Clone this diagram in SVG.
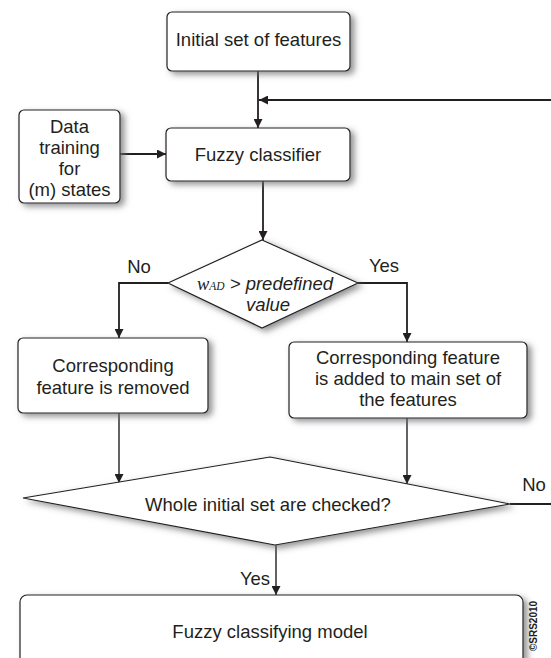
<svg xmlns="http://www.w3.org/2000/svg" width="551" height="658" viewBox="0 0 551 658">
<defs>
<filter id="sh" x="-20%" y="-20%" width="140%" height="140%">
<feGaussianBlur in="SourceAlpha" stdDeviation="3"/>
<feOffset dx="4" dy="3" result="b"/>
<feFlood flood-color="#6d6e71" flood-opacity="0.75"/>
<feComposite in2="b" operator="in"/>
<feMerge><feMergeNode/><feMergeNode in="SourceGraphic"/></feMerge>
</filter>
<marker id="ah" viewBox="0 0 10 10" refX="10" refY="5" markerWidth="9" markerHeight="9" markerUnits="userSpaceOnUse" orient="auto">
<path d="M0,0 L10,5 L0,10 z" fill="#231f20"/>
</marker>
</defs>
<style>
.box{fill:#fff;stroke:#231f20;stroke-width:1.2;filter:url(#sh)}
.t{font-family:"Liberation Sans",Arial,sans-serif;font-size:18.5px;fill:#231f20;text-anchor:middle}
.c{fill:none;stroke:#231f20;stroke-width:1.8}
.c2{fill:none;stroke:#231f20;stroke-width:1.4}
</style>
<rect width="551" height="658" fill="#fff"/>
<g id="connectors">
<path class="c" d="M258,71 V128" marker-end="url(#ah)"/>
<path class="c" d="M551,100 H259" marker-end="url(#ah)"/>
<path class="c" d="M120,154 H166" marker-end="url(#ah)"/>
<path class="c" d="M263,181 V240" marker-end="url(#ah)"/>
<path class="c" d="M168,283 H119 V338" marker-end="url(#ah)"/>
<path class="c" d="M358,283 H407 V342" marker-end="url(#ah)"/>
<path class="c2" d="M119,413 V483" marker-end="url(#ah)"/>
<path class="c2" d="M407,418 V484" marker-end="url(#ah)"/>
<path class="c" d="M510,504 H551"/>
<path class="c2" d="M276,545 V595" marker-end="url(#ah)"/>
</g>
<g id="n-initial"><rect class="box" x="167" y="12" width="183" height="59" rx="5"/><text class="t" x="258.5" y="46">Initial set of features</text></g>
<g id="n-data"><rect class="box" x="19" y="110" width="101" height="93" rx="5"/>
<text class="t" x="69.5" y="132.5">Data</text><text class="t" x="69.5" y="153.5">training</text><text class="t" x="69.5" y="174.5">for</text><text class="t" x="69.5" y="195.5">(m) states</text></g>
<g id="n-fuzzy"><rect class="box" x="166" y="128" width="184" height="53" rx="5"/><text class="t" x="258" y="161">Fuzzy classifier</text></g>
<g id="n-dec1"><polygon class="box" points="262,240 358,283 262,328 168,283"/>
<text class="t" x="265" y="290"><tspan font-family="'Liberation Serif',serif" font-style="italic">w<tspan font-size="11.5px">AD</tspan></tspan><tspan font-style="italic"> &gt; predefined</tspan></text>
<text class="t" x="268" y="311" font-style="italic">value</text></g>
<g id="n-removed"><rect class="box" x="18" y="338" width="190" height="75" rx="5"/>
<text class="t" x="113" y="372">Corresponding</text><text class="t" x="113" y="394">feature is removed</text></g>
<g id="n-added"><rect class="box" x="289" y="342" width="238" height="76" rx="5"/>
<text class="t" x="408" y="364">Corresponding feature</text><text class="t" x="408" y="385">is added to main set of</text><text class="t" x="408" y="406">the features</text></g>
<g id="n-dec2"><polygon class="box" points="270,457 510,504 275,545 23,498"/>
<text class="t" x="268" y="511">Whole initial set are checked?</text></g>
<g id="n-model"><rect class="box" x="20" y="595" width="503" height="80" rx="7"/>
<text class="t" x="270" y="638">Fuzzy classifying model</text></g>
<g id="labels">
<text class="t" x="139" y="273">No</text>
<text class="t" x="384" y="272">Yes</text>
<text class="t" x="534" y="491">No</text>
<text class="t" x="255" y="585">Yes</text>
<text x="0" y="0" transform="translate(537,626) rotate(-90)" font-family="'Liberation Sans',Arial,sans-serif" font-weight="bold" font-size="10px" fill="#231f20" text-anchor="middle">©SRS2010</text>
</g>
</svg>
